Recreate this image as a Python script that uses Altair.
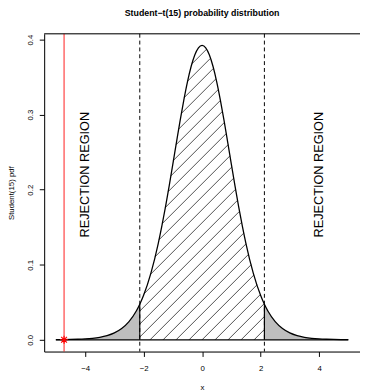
import altair as alt
import numpy as np
import pandas as pd

# ---- data ----
x_vals = [-5, -4.75, -4.5, -4.25, -4, -3.75, -3.5, -3.25, -3, -2.75, -2.5, -2.25, -2.131,
          -2, -1.75, -1.5, -1.375, -1.25, -1.125, -1, -0.875, -0.75, -0.625, -0.5, -0.375,
          -0.25, -0.125, 0, 0.125, 0.25, 0.375, 0.5, 0.625, 0.75, 0.875, 1, 1.125, 1.25,
          1.375, 1.5, 1.75, 2, 2.131, 2.25, 2.5, 2.75, 3, 3.25, 3.5, 3.75, 4, 4.25, 4.5,
          4.75, 5]
pdf_vals = [0.00015, 0.00025, 0.00042, 0.00071, 0.00118, 0.00198, 0.00331, 0.00552, 0.00913,
            0.01497, 0.02418, 0.03831, 0.04729, 0.05921, 0.08876, 0.12826, 0.15180, 0.17759,
            0.20524, 0.23414, 0.26346, 0.29228, 0.31942, 0.34376, 0.36414, 0.37953, 0.38911,
            0.39236, 0.38911, 0.37953, 0.36414, 0.34376, 0.31942, 0.29228, 0.26346, 0.23414,
            0.20524, 0.17759, 0.15180, 0.12826, 0.08876, 0.05921, 0.04729, 0.03831, 0.02418,
            0.01497, 0.00913, 0.00552, 0.00331, 0.00198, 0.00118, 0.00071, 0.00042, 0.00025,
            0.00015]
critical = [-2.131, 2.131]
observed_t = [-4.72]
x_ticks = [-4, -2, 0, 2, 4]
y_ticks = [0.0, 0.1, 0.2, 0.3, 0.4]
region_label = "REJECTION REGION"
region_x = [-4, 4]
region_y = [0.22, 0.22]
title_text = "Student\u2212t(15) probability distribution"

# ---- layout ----
W, H = 323, 325
X_DOM = [-5.4, 5.4]
Y_DOM = [-0.0157, 0.4078]
FONT = "Liberation Sans"

X = np.array(x_vals, dtype=float)
Y = np.array(pdf_vals, dtype=float)
crit = critical[1]

curve = pd.DataFrame({"x": X, "y": Y})
left_tail = curve[curve.x <= -crit + 1e-9]
right_tail = curve[curve.x >= crit - 1e-9]

# hatch lines at 45 degrees in pixel space, clipped to the central region under the curve
kx = W / (X_DOM[1] - X_DOM[0])
ky = H / (Y_DOM[1] - Y_DOM[0])
r = ky / kx
spacing = 13.3 / kx
grid_x = np.linspace(-crit, crit, 20001)
grid_f = np.interp(grid_x, X, Y)
rows = []
for k in range(-40, 41):
    c = k * spacing
    line_y = (grid_x - c) / r
    inside = (line_y >= 0) & (line_y <= grid_f)
    if not inside.any():
        continue
    idx = np.nonzero(inside)[0]
    i0, i1 = int(idx[0]), int(idx[-1])
    if i1 - i0 < 2:
        continue
    rows.append({"x": float(grid_x[i0]), "y": float(line_y[i0]),
                 "x2": float(grid_x[i1]), "y2": float(line_y[i1])})
hatch = pd.DataFrame(rows)

xs_scale = alt.Scale(domain=X_DOM, nice=False, zero=False)
ys_scale = alt.Scale(domain=Y_DOM, nice=False, zero=False)

x_axis = alt.Axis(values=x_ticks, title="x", grid=False, domain=True, domainColor="black",
                  tickColor="black", tickSize=5, labelFontSize=8, labelFont=FONT,
                  labelColor="black", labelPadding=8, titleFont=FONT, titleFontSize=8,
                  titleFontWeight="normal", titleColor="black", titlePadding=12)
y_axis = alt.Axis(values=y_ticks, format=".1f", title="Student(15) pdf", grid=False,
                  domain=True, domainColor="black", tickColor="black", tickSize=5,
                  labelFontSize=8, labelFont=FONT, labelColor="black", labelAngle=270,
                  labelAlign="center", labelBaseline="middle", labelPadding=9,
                  titleFont=FONT, titleFontSize=8, titleFontWeight="normal",
                  titleColor="black", titleAngle=270, titleX=-33, titleY=H / 2,
                  titleAlign="center", titleBaseline="middle")

base_x = alt.X("x:Q", scale=xs_scale, axis=x_axis)
base_y = alt.Y("y:Q", scale=ys_scale, axis=y_axis)

tails = alt.layer(
    alt.Chart(left_tail).mark_area(color="#BEBEBE", interpolate="monotone").encode(x=base_x, y=base_y),
    alt.Chart(right_tail).mark_area(color="#BEBEBE", interpolate="monotone").encode(x="x:Q", y="y:Q"),
)

hatch_layer = alt.Chart(hatch).mark_rule(color="black", strokeWidth=0.7).encode(
    x="x:Q", y="y:Q", x2="x2:Q", y2="y2:Q")

line = alt.Chart(curve).mark_line(color="black", strokeWidth=1.3, interpolate="monotone").encode(
    x="x:Q", y="y:Q")

base_df = pd.DataFrame({"x": [x_vals[0]], "x2": [x_vals[-1]], "y": [0.0]})
baseline = alt.Chart(base_df).mark_rule(color="black", strokeWidth=1.3).encode(
    x="x:Q", x2="x2:Q", y="y:Q")

edge_df = pd.DataFrame({"x": critical, "y": [0.0, 0.0],
                        "y2": [float(np.interp(v, X, Y)) for v in critical]})
edges = alt.Chart(edge_df).mark_rule(color="black", strokeWidth=1.2).encode(
    x="x:Q", y="y:Q", y2="y2:Q")

dashed = alt.Chart(pd.DataFrame({"x": critical})).mark_rule(
    color="black", strokeWidth=1, strokeDash=[4, 3]).encode(x="x:Q")

red_line = alt.Chart(pd.DataFrame({"x": observed_t})).mark_rule(
    color="#FF0000", strokeWidth=0.9).encode(x="x:Q")

star_path = "M-1,0L1,0M0,-1L0,1M-0.7,-0.7L0.7,0.7M-0.7,0.7L0.7,-0.7"
star = alt.Chart(pd.DataFrame({"x": observed_t, "y": [0.0]})).mark_point(
    shape=star_path, filled=False, color="#FF0000", size=70, strokeWidth=1.2, opacity=1).encode(
    x="x:Q", y="y:Q")

texts = alt.Chart(pd.DataFrame({"x": region_x, "y": region_y, "t": [region_label] * 2})).mark_text(
    angle=270, fontSize=13, font=FONT, color="black", align="center", baseline="middle").encode(
    x="x:Q", y="y:Q", text="t:N")

top_border = alt.Chart(pd.DataFrame({"a": [0]})).mark_rule(color="black", strokeWidth=1).encode(
    x=alt.value(0), x2=alt.value(W), y=alt.value(0))

chart = alt.layer(
    tails, hatch_layer, edges, baseline, line, dashed, red_line, star, texts, top_border
).properties(
    width=W, height=H,
    title=alt.TitleParams(title_text, font=FONT, fontSize=9, fontWeight="bold",
                          color="black", anchor="middle", offset=16),
    autosize=alt.AutoSizeParams(type="none"),
    padding={"left": 37, "top": 22, "right": 0, "bottom": 37},
).configure_view(stroke=None).configure(background="white")

chart.save("out.html", embed_options={"renderer": "svg", "actions": False})
